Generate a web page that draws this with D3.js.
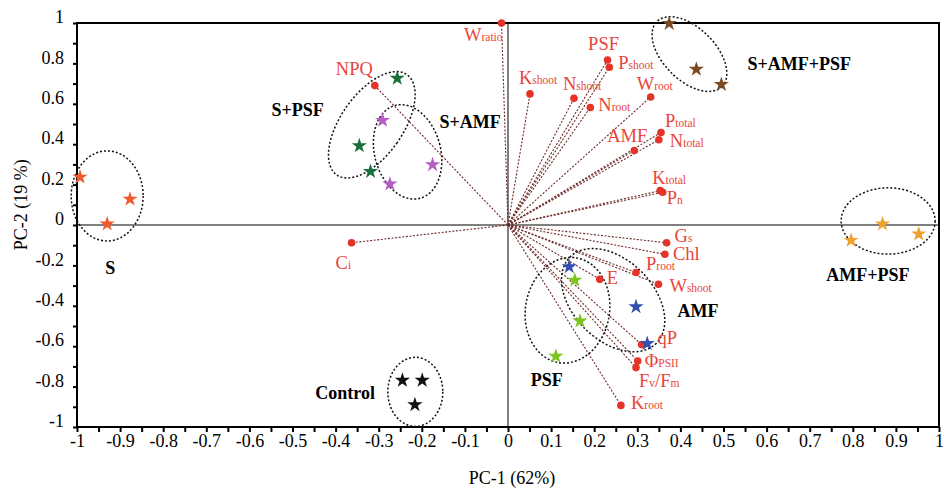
<!DOCTYPE html>
<html>
<head>
<meta charset="utf-8">
<script src="https://cdn.jsdelivr.net/npm/d3@7"></script>
<style>
  body { margin: 0; background: #fff; }
  text { font-family: "Liberation Serif", "Times New Roman", serif; }
</style>
</head>
<body>
<div class="chart"></div>
<script>
// ---- data ----
var loadingVars = ["Wratio", "NPQ", "Kshoot", "Nshoot", "PSF", "Pshoot", "Nroot", "Wroot",
  "Ptotal", "Ntotal", "AMF", "Ktotal", "Pn", "Gs", "Chl", "Proot", "Wshoot", "E",
  "qP", "ΦPSII", "Fv/Fm", "Kroot", "Ci"];
var loadingPC1 = [-0.015, -0.309, 0.051, 0.153, 0.231, 0.235, 0.191, 0.331,
  0.355, 0.350, 0.293, 0.353, 0.359, 0.368, 0.364, 0.297, 0.349, 0.213,
  0.310, 0.301, 0.297, 0.262, -0.363];
var loadingPC2 = [1.0, 0.690, 0.649, 0.627, 0.817, 0.781, 0.582, 0.634,
  0.458, 0.422, 0.369, 0.170, 0.162, -0.088, -0.145, -0.235, -0.293, -0.269,
  -0.592, -0.673, -0.706, -0.893, -0.088];

// label pieces: [text, subscript?]
var labelParts = {
  "Wratio": [["W", 0], ["ratio", 1]],
  "Kshoot": [["K", 0], ["shoot", 1]],
  "Nshoot": [["N", 0], ["shoot", 1]],
  "Pshoot": [["P", 0], ["shoot", 1]],
  "Nroot": [["N", 0], ["root", 1]],
  "Wroot": [["W", 0], ["root", 1]],
  "Ptotal": [["P", 0], ["total", 1]],
  "Ntotal": [["N", 0], ["total", 1]],
  "Ktotal": [["K", 0], ["total", 1]],
  "Pn": [["P", 0], ["n", 1]],
  "Gs": [["G", 0], ["s", 1]],
  "Proot": [["P", 0], ["root", 1]],
  "Wshoot": [["W", 0], ["shoot", 1]],
  "ΦPSII": [["Φ", 0], ["PSII", 1]],
  "Fv/Fm": [["F", 0], ["v", 1], ["/F", 0], ["m", 1]],
  "Kroot": [["K", 0], ["root", 1]],
  "Ci": [["C", 0], ["i", 1]]
};

var groupNames = ["S", "S+PSF", "S+AMF", "S+AMF+PSF", "AMF+PSF", "Control", "AMF", "PSF"];
var scorePC1 = [
  [-0.993, -0.877, -0.930],
  [-0.257, -0.345, -0.319],
  [-0.291, -0.175, -0.274],
  [0.374, 0.437, 0.495],
  [0.869, 0.796, 0.953],
  [-0.245, -0.199, -0.216],
  [0.142, 0.297, 0.323],
  [0.155, 0.167, 0.111]
];
var scorePC2 = [
  [0.237, 0.128, 0.005],
  [0.726, 0.392, 0.265],
  [0.518, 0.298, 0.203],
  [0.998, 0.771, 0.696],
  [0.005, -0.076, -0.045],
  [-0.769, -0.769, -0.890],
  [-0.207, -0.405, -0.587],
  [-0.273, -0.475, -0.650]
];

// group ellipses (centre, semi-axes in axis units, tilt in degrees)
var ellipseCX = [-0.930, -0.316, -0.233, 0.421, 0.882, -0.215, 0.244, 0.138];
var ellipseCY = [0.144, 0.496, 0.362, 0.846, 0.020, -0.826, -0.372, -0.422];
var ellipseRX = [0.0835, 0.072, 0.0766, 0.1067, 0.109, 0.0638, 0.1415, 0.0975];
var ellipseRY = [0.223, 0.303, 0.238, 0.129, 0.164, 0.171, 0.1985, 0.263];
var ellipseTilt = [0, 35, -15, 45, 0, 0, 45, 10];

// where the group names sit
var groupLabelPC1 = [-0.923, -0.488, -0.088, 0.676, 0.835, 0.441, 0.090, -0.378];
var groupLabelPC2 = [-0.213, 0.571, 0.511, 0.799, -0.248, -0.422, -0.764, -0.829];
var groupLabelOrder = ["S", "S+PSF", "S+AMF", "S+AMF+PSF", "AMF+PSF", "AMF", "PSF", "Control"];

var xTicks = d3.range(-20, 21).map(d => d / 20);
var yTicks = d3.range(-10, 11).map(d => d / 10);

// ---- layout ----
var svgWidth = 944;
var svgHeight = 489;
var margin = { top: 23, right: 5, bottom: 62, left: 77 };
var width = svgWidth - margin.left - margin.right;
var height = svgHeight - margin.top - margin.bottom;

var groupColors = ["#ef5a2c", "#18703a", "#b65ec4", "#7a4a24", "#f0a22e", "#111111", "#3350ae", "#7cc41e"];
var redDot = "#e4342a";
var redText = "#e8453a";

// label offsets from each loading dot, in px: [dx, dy, anchor]
var labelOffsets = [
  [1, 18, "end"], [-2, -11, "end"], [-11, -10, "start"], [-11, -8, "start"], [-4, -10, "middle"],
  [9, 2, "start"], [8, 4, "start"], [-14, -7, "start"], [4, -5, "start"], [11, 7, "start"],
  [13, -8, "end"], [-8, -7, "start"], [4, 12, "start"], [8, -1, "start"], [8, 6, "start"],
  [10, -2, "start"], [11, 8, "start"], [7, 5, "start"], [16, -1, "start"], [7, 6, "start"],
  [3, 19, "start"], [10, 4, "start"], [-16, 26, "start"]
];

var svg = d3.select(".chart").append("svg")
  .attr("width", svgWidth)
  .attr("height", svgHeight);

var chartGroup = svg.append("g")
  .attr("transform", `translate(${margin.left}, ${margin.top})`);

var x = d3.scaleLinear().domain([-1, 1]).range([0, width]);
var y = d3.scaleLinear().domain([-1, 1]).range([height, 0]);

// zero lines
chartGroup.append("line")
  .attr("x1", 0).attr("x2", width)
  .attr("y1", y(0)).attr("y2", y(0))
  .attr("stroke", "#808080").attr("stroke-width", 2);
chartGroup.append("line")
  .attr("x1", x(0)).attr("x2", x(0))
  .attr("y1", 0).attr("y2", height)
  .attr("stroke", "#808080").attr("stroke-width", 2);

// axes
var fmt = d => String(+d.toFixed(1));

var bottomAxis = d3.axisBottom(x)
  .tickValues(xTicks)
  .tickSize(5)
  .tickFormat(d => Math.abs(Math.round(d * 20)) % 2 === 0 ? fmt(d) : "");
var xAxis = chartGroup.append("g")
  .attr("transform", `translate(0, ${height})`)
  .call(bottomAxis);

var leftAxis = d3.axisLeft(y)
  .tickValues(yTicks)
  .tickSize(4)
  .tickPadding(9)
  .tickFormat(d => Math.abs(Math.round(d * 10)) % 2 === 0 ? fmt(d) : "");
var yAxis = chartGroup.append("g").call(leftAxis);

[xAxis, yAxis].forEach(function(ax) {
  ax.select(".domain").remove();
  ax.selectAll(".tick line").attr("stroke", "#000").attr("stroke-width", 2);
  ax.selectAll(".tick text")
    .attr("fill", "#000")
    .style("font-family", '"Liberation Serif", "Times New Roman", serif')
    .style("font-size", "18px");
});
xAxis.selectAll(".tick text").attr("y", 14).attr("dy", "0.35em");
yAxis.selectAll(".tick text").attr("dy", "0.32em").attr("y", -6);

// frame
chartGroup.append("rect")
  .attr("width", width).attr("height", height)
  .attr("fill", "none").attr("stroke", "#000").attr("stroke-width", 2);

// axis titles
chartGroup.append("text")
  .attr("x", x(0) + 4)
  .attr("y", height + 51)
  .attr("text-anchor", "middle")
  .attr("dy", "0.35em")
  .style("font-size", "18px")
  .text("PC-1 (62%)");

chartGroup.append("text")
  .attr("transform", `translate(${-margin.left + 21}, ${y(0.1) })rotate(-90)`)
  .attr("text-anchor", "middle")
  .attr("dy", "0.35em")
  .style("font-size", "18px")
  .text("PC-2 (19 %)");

// loading vectors
var loadings = loadingVars.map((v, i) => ({ name: v, pc1: loadingPC1[i], pc2: loadingPC2[i], off: labelOffsets[i] }));

chartGroup.append("g").selectAll("line")
  .data(loadings)
  .enter().append("line")
  .attr("x1", x(0)).attr("y1", y(0))
  .attr("x2", d => x(d.pc1)).attr("y2", d => y(d.pc2))
  .attr("stroke", "#6e2a28")
  .attr("stroke-width", 1.1)
  .attr("stroke-dasharray", "2,1.6");

// group ellipses
chartGroup.append("g").selectAll("ellipse")
  .data(groupNames.map((g, i) => i))
  .enter().append("ellipse")
  .attr("transform", i => `translate(${x(ellipseCX[i])}, ${y(ellipseCY[i])}) rotate(${ellipseTilt[i]})`)
  .attr("rx", i => x(ellipseRX[i]) - x(0))
  .attr("ry", i => y(0) - y(ellipseRY[i]))
  .attr("fill", "none")
  .attr("stroke", "#111")
  .attr("stroke-width", 1.5)
  .attr("stroke-dasharray", "2,2");

// loading dots
chartGroup.append("g").selectAll("circle")
  .data(loadings)
  .enter().append("circle")
  .attr("cx", d => x(d.pc1))
  .attr("cy", d => y(d.pc2))
  .attr("r", 3.8)
  .attr("fill", redDot);

// scores as stars
var star = d3.symbol().type(d3.symbolStar).size(72);
var scores = [];
groupNames.forEach(function(g, gi) {
  scorePC1[gi].forEach(function(v, j) {
    scores.push({ group: g, gi: gi, pc1: v, pc2: scorePC2[gi][j] });
  });
});
chartGroup.append("g").selectAll("path")
  .data(scores)
  .enter().append("path")
  .attr("d", star)
  .attr("transform", d => `translate(${x(d.pc1)}, ${y(d.pc2)})`)
  .attr("fill", d => groupColors[d.gi]);

// loading labels
var lab = chartGroup.append("g").selectAll("text")
  .data(loadings)
  .enter().append("text")
  .attr("x", d => x(d.pc1) + d.off[0])
  .attr("y", d => y(d.pc2) + d.off[1])
  .attr("text-anchor", d => d.off[2])
  .attr("fill", redText)
  .style("font-size", "18.5px");

lab.each(function(d) {
  var parts = labelParts[d.name] || [[d.name, 0]];
  var t = d3.select(this);
  parts.forEach(function(p) {
    t.append("tspan")
      .style("font-size", p[1] ? "11.5px" : "18.5px")
      .text(p[0]);
  });
});

// group names
chartGroup.append("g").selectAll("text")
  .data(groupLabelOrder)
  .enter().append("text")
  .attr("x", (d, i) => x(groupLabelPC1[i]))
  .attr("y", (d, i) => y(groupLabelPC2[i]))
  .attr("text-anchor", "middle")
  .attr("dy", "0.35em")
  .style("font-size", "18px")
  .style("font-weight", "bold")
  .text(d => d);
</script>
</body>
</html>
